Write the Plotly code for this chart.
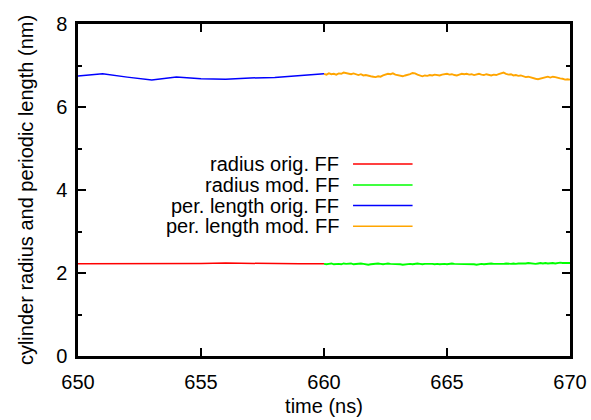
import numpy as np
import plotly.graph_objects as go

# Simulation time (ns) for the original force field run (sampled every 1 ns)
t_orig = [650, 651, 652, 653, 654, 655, 656, 657, 658, 659, 660]
radius_orig = [2.22, 2.22, 2.22, 2.22, 2.23, 2.23, 2.24, 2.23, 2.23, 2.22, 2.22]
perlen_orig = [6.75, 6.80, 6.72, 6.65, 6.72, 6.68, 6.67, 6.70, 6.71, 6.75, 6.80]

# Modified force field run, sampled every 0.1 ns from 660 to 670 ns
t_mod = np.round(np.arange(660.0, 670.05, 0.1), 1)
radius_mod = [
    2.22, 2.21, 2.22, 2.23, 2.21, 2.22, 2.22, 2.21, 2.23, 2.22,
    2.22, 2.23, 2.21, 2.22, 2.22, 2.23, 2.22, 2.21, 2.20, 2.21,
    2.22, 2.22, 2.23, 2.22, 2.21, 2.22, 2.23, 2.22, 2.22, 2.21,
    2.22, 2.21, 2.20, 2.21, 2.22, 2.22, 2.21, 2.22, 2.23, 2.22,
    2.21, 2.22, 2.22, 2.23, 2.22, 2.21, 2.22, 2.21, 2.22, 2.22,
    2.21, 2.22, 2.23, 2.22, 2.22, 2.21, 2.22, 2.22, 2.21, 2.22,
    2.22, 2.21, 2.20, 2.21, 2.22, 2.21, 2.22, 2.22, 2.23, 2.22,
    2.22, 2.21, 2.22, 2.22, 2.23, 2.22, 2.22, 2.23, 2.22, 2.23,
    2.23, 2.22, 2.23, 2.24, 2.23, 2.23, 2.22, 2.23, 2.24, 2.23,
    2.24, 2.23, 2.24, 2.24, 2.23, 2.24, 2.25, 2.24, 2.24, 2.23, 2.24,
]
perlen_mod = [
    6.80, 6.78, 6.81, 6.79, 6.80, 6.78, 6.81, 6.80, 6.83, 6.82,
    6.80, 6.79, 6.81, 6.78, 6.77, 6.79, 6.76, 6.77, 6.75, 6.74,
    6.73, 6.72, 6.74, 6.73, 6.76, 6.78, 6.80, 6.79, 6.81, 6.78,
    6.77, 6.75, 6.74, 6.76, 6.77, 6.79, 6.82, 6.81, 6.78, 6.76,
    6.74, 6.76, 6.75, 6.77, 6.76, 6.78, 6.77, 6.76, 6.78, 6.79,
    6.80, 6.78, 6.79, 6.77, 6.76, 6.78, 6.80, 6.79, 6.80, 6.78,
    6.79, 6.77, 6.78, 6.80, 6.78, 6.77, 6.79, 6.77, 6.76, 6.78,
    6.77, 6.79, 6.81, 6.83, 6.80, 6.78, 6.79, 6.76, 6.77, 6.75,
    6.76, 6.74, 6.72, 6.73, 6.71, 6.70, 6.68, 6.67, 6.69, 6.70,
    6.72, 6.73, 6.71, 6.73, 6.72, 6.70, 6.69, 6.68, 6.66, 6.67, 6.66,
]

# name, times, values, colour, line width (noisier fine-sampled runs a bit heavier)
series = [
    ("radius orig. FF", t_orig, radius_orig, "#ff0000", 1.5),
    ("radius mod. FF", t_mod, radius_mod, "#00ff00", 1.9),
    ("per. length orig. FF", t_orig, perlen_orig, "#0000ff", 1.5),
    ("per. length mod. FF", t_mod, perlen_mod, "#ffa500", 1.9),
]

FONT = "Liberation Sans, Arial, Helvetica, sans-serif"
FS = 20

fig = go.Figure()
for name, x, y, color, lw in series:
    fig.add_trace(go.Scatter(x=x, y=y, mode="lines", name=name,
                             line=dict(color=color, width=lw),
                             showlegend=False))

# gnuplot-style key: right-aligned labels with line samples to their right
key_y = [0.578, 0.515, 0.453, 0.391]
annotations = []
shapes = []
for (name, _, _, color, _), ky in zip(series, key_y):
    annotations.append(dict(xref="paper", yref="paper", x=0.535, y=ky,
                            text=name, showarrow=False, xanchor="right",
                            yanchor="middle",
                            font=dict(family=FONT, size=FS, color="black")))
    shapes.append(dict(type="line", xref="paper", yref="paper",
                       x0=0.559, x1=0.680, y0=ky, y1=ky,
                       line=dict(color=color, width=1.5)))

axis_common = dict(
    showline=True, linecolor="black", linewidth=2.5, mirror="allticks",
    ticks="inside", ticklen=8, tickwidth=1.5, tickcolor="black",
    showgrid=False, zeroline=False, automargin=False,
    tickfont=dict(family=FONT, size=FS, color="black"),
)

fig.update_layout(
    width=591, height=420,
    margin=dict(l=78, r=21, t=24, b=64),
    paper_bgcolor="white", plot_bgcolor="white",
    font=dict(family=FONT, size=FS, color="black"),
    xaxis=dict(range=[650, 670], tick0=650, dtick=5,
               ticklabelstandoff=6,
               title=dict(text="time (ns)", standoff=8,
                          font=dict(family=FONT, size=FS)),
               **axis_common),
    yaxis=dict(range=[0, 8], tick0=0, dtick=2,
               ticklabelstandoff=4,
               minor=dict(dtick=1, ticks="inside", ticklen=4,
                          tickwidth=1.5, tickcolor="black", showgrid=False),
               title=dict(text="cylinder radius and periodic length (nm)",
                          standoff=18, font=dict(family=FONT, size=FS)),
               **axis_common),
    annotations=annotations,
    shapes=shapes,
)

fig.write_html("out.html")
